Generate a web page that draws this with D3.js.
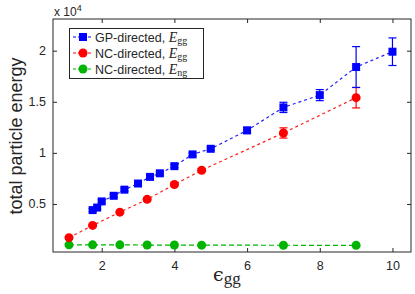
<!DOCTYPE html>
<html>
<head>
<meta charset="utf-8">
<style>
    body { margin: 0; background: #fff; }
    svg { display: block; font-family: 'Liberation Sans', Arial, sans-serif; }
    .tick text { font-size: 12.5px; fill: #262626; }
    .tick line { stroke: #262626; }
    .domain { display: none; }
</style>
</head>
<body>
<svg width="415" height="294"></svg>
<script src="https://d3js.org/d3.v7.min.js"></script>
<script>
    // GP-directed, E_gg
    let gpX = [1.75, 1.875, 2, 2.33, 2.625, 3, 3.33, 3.6, 4, 4.5, 5, 6, 7, 8, 9, 10];
    let gpY = [4400, 4650, 5250, 5800, 6400, 7000, 7650, 8000, 8700, 9850, 10400, 12200, 14450, 15650, 18400, 19900];
    let gpErr = [150, 150, 150, 150, 150, 150, 150, 150, 150, 150, 150, 300, 500, 540, 2000, 1350];
    // NC-directed, E_gg
    let ncX = [1.1, 1.75, 2.5, 3.25, 4, 4.75, 7, 9];
    let ncY = [1700, 2900, 4200, 5450, 6900, 8300, 11950, 15400];
    let ncErr = [100, 100, 100, 150, 150, 150, 500, 1000];
    // NC-directed, E_ng
    let ngX = [1.1, 1.75, 2.5, 3.25, 4, 4.75, 7, 9];
    let ngY = [1000, 1000, 1000, 980, 980, 970, 960, 950];

    let xTicks = [2, 4, 6, 8, 10];
    let yTicks = [5000, 10000, 15000, 20000];

    let width = 415, height = 294;
    let margin = { top: 19, right: 4, bottom: 42, left: 53 };
    let svg = d3.select("svg");

    let x = d3.scaleLinear().domain([0.66, 10.51]).range([margin.left, width - margin.right]);
    let y = d3.scaleLinear().domain([300, 23100]).range([height - margin.bottom, margin.top]);

    let plotW = width - margin.left - margin.right;
    let plotH = height - margin.top - margin.bottom;

    // axes (ticks inward, mirrored on top/right)
    svg.append("g")
        .attr("transform", `translate(0,${height - margin.bottom})`)
        .call(d3.axisBottom(x).tickValues(xTicks).tickSize(-4).tickPadding(9).tickFormat(d3.format("d")));
    svg.append("g")
        .attr("transform", `translate(0,${margin.top})`)
        .call(d3.axisTop(x).tickValues(xTicks).tickSize(-4).tickFormat(""));
    svg.append("g")
        .attr("transform", `translate(${margin.left},0)`)
        .call(d3.axisLeft(y).tickValues(yTicks).tickSize(-4).tickPadding(7).tickFormat(d => d / 10000));
    svg.append("g")
        .attr("transform", `translate(${width - margin.right},0)`)
        .call(d3.axisRight(y).tickValues(yTicks).tickSize(-4).tickFormat(""));

    let line = d3.line().x(d => x(d[0])).y(d => y(d[1]));

    function drawErr(xs, ys, es, color) {
        let g = svg.append("g").attr("stroke", color).attr("stroke-width", 1.2);
        xs.forEach((xv, i) => {
            let top = y(ys[i] + es[i]), bot = y(ys[i] - es[i]), cx = x(xv);
            g.append("line").attr("x1", cx).attr("x2", cx).attr("y1", top).attr("y2", bot);
            g.append("line").attr("x1", cx - 4).attr("x2", cx + 4).attr("y1", top).attr("y2", top);
            g.append("line").attr("x1", cx - 4).attr("x2", cx + 4).attr("y1", bot).attr("y2", bot);
        });
    }

    // green line
    svg.append("path").datum(d3.zip(ngX, ngY)).attr("d", line)
        .attr("fill", "none").attr("stroke", "#00b400").attr("stroke-width", 1.2).attr("stroke-dasharray", "5,3");
    // red line
    svg.append("path").datum(d3.zip(ncX, ncY)).attr("d", line)
        .attr("fill", "none").attr("stroke", "#ff2020").attr("stroke-width", 1.2).attr("stroke-dasharray", "3,3");
    // blue line
    svg.append("path").datum(d3.zip(gpX, gpY)).attr("d", line)
        .attr("fill", "none").attr("stroke", "#2020ff").attr("stroke-width", 1.2).attr("stroke-dasharray", "3,3");

    drawErr(ncX, ncY, ncErr, "#ff0000");
    drawErr(gpX, gpY, gpErr, "#0000ff");

    svg.append("g").selectAll("circle").data(d3.zip(ngX, ngY)).join("circle")
        .attr("cx", d => x(d[0])).attr("cy", d => y(d[1])).attr("r", 4.5).attr("fill", "#00b400");
    svg.append("g").selectAll("circle").data(d3.zip(ncX, ncY)).join("circle")
        .attr("cx", d => x(d[0])).attr("cy", d => y(d[1])).attr("r", 4.5).attr("fill", "#ff0000");
    svg.append("g").selectAll("rect").data(d3.zip(gpX, gpY)).join("rect")
        .attr("x", d => x(d[0]) - 4).attr("y", d => y(d[1]) - 4).attr("width", 8).attr("height", 8).attr("fill", "#0000ff");

    // frame
    svg.append("rect").attr("x", margin.left).attr("y", margin.top).attr("width", plotW).attr("height", plotH)
        .attr("fill", "none").attr("stroke", "#262626").attr("stroke-width", 1);

    // exponent label
    let ex = svg.append("text").attr("x", 54).attr("y", 16).attr("font-size", 12).attr("fill", "#262626");
    ex.append("tspan").text("x 10");
    ex.append("tspan").attr("dy", -5).attr("font-size", 9).text("4");

    // axis labels
    svg.append("text").attr("transform", "translate(22,136) rotate(-90)").attr("text-anchor", "middle")
        .attr("font-size", 18).attr("fill", "#262626").text("total particle energy");
    let xl = svg.append("text").attr("x", 213).attr("y", 281)
        .attr("font-family", "'DejaVu Serif', serif").attr("fill", "#262626");
    xl.append("tspan").attr("font-size", 19).text("ϵ");
    xl.append("tspan").attr("font-size", 17).attr("font-family", "'Liberation Serif', serif").attr("dy", 3).text("gg");

    // legend
    let leg = svg.append("g");
    leg.append("rect").attr("x", 69.5).attr("y", 28.5).attr("width", 134).attr("height", 50)
        .attr("fill", "#fff").attr("stroke", "#262626").attr("stroke-width", 1);
    let items = [
        { c: "#0000ff", shape: "sq", label: "GP-directed, ", sub: "gg" },
        { c: "#ff0000", shape: "ci", label: "NC-directed, ", sub: "gg" },
        { c: "#00b400", shape: "ci", label: "NC-directed, ", sub: "ng" }
    ];
    items.forEach((it, i) => {
        let cy = 37 + i * 16;
        leg.append("line").attr("x1", 73).attr("x2", 93).attr("y1", cy).attr("y2", cy)
            .attr("stroke", it.c).attr("stroke-width", 1.2).attr("stroke-dasharray", "3,2");
        if (it.shape === "sq") {
            leg.append("rect").attr("x", 79).attr("y", cy - 4).attr("width", 8).attr("height", 8).attr("fill", it.c);
        } else {
            leg.append("circle").attr("cx", 83).attr("cy", cy).attr("r", 4.5).attr("fill", it.c);
        }
        let t = leg.append("text").attr("x", 95).attr("y", cy + 4.5).attr("font-size", 12.5).attr("fill", "#262626");
        t.append("tspan").text(it.label);
        t.append("tspan").attr("font-family", "'Liberation Serif', serif").attr("font-style", "italic")
            .attr("font-size", 14).text("E");
        t.append("tspan").attr("font-family", "'Liberation Serif', serif").attr("font-size", 10).attr("dy", 2).text(it.sub);
    });
</script>
</body>
</html>
